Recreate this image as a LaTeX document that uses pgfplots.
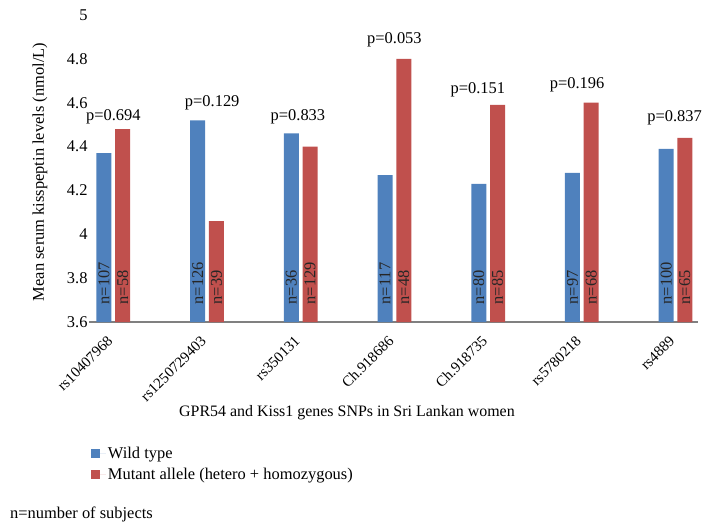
\documentclass[border=0pt]{standalone}
\usepackage{fontspec}
\setmainfont{Liberation Serif}
\usepackage{pgfplots}
\usepackage{pgfplotstable}
\pgfplotsset{compat=1.18}
\definecolor{wildblue}{RGB}{79,129,189}
\definecolor{mutred}{RGB}{192,80,77}
\definecolor{axisgray}{RGB}{128,128,128}

% bar means, blue shifted -0.1, red +0.1
\pgfplotstableread{
x y
-0.1 4.37
0.9 4.52
1.9 4.46
2.9 4.27
3.9 4.23
4.9 4.28
5.9 4.39
}\wildtab
\pgfplotstableread{
x y
0.1 4.48
1.1 4.06
2.1 4.40
3.1 4.80
4.1 4.59
5.1 4.60
6.1 4.44
}\muttab
% subject counts
\pgfplotstableread{
x y lab
-0.1 3.68 n=107
0.1 3.68 n=58
0.9 3.68 n=126
1.1 3.68 n=39
1.9 3.68 n=36
2.1 3.68 n=129
2.9 3.68 n=117
3.1 3.68 n=48
3.9 3.68 n=80
4.1 3.68 n=85
4.9 3.68 n=97
5.1 3.68 n=68
5.9 3.68 n=100
6.1 3.68 n=65
}\ntab
% p values
\pgfplotstableread{
x y lab
0.0 4.535 p=0.694
1.055 4.599 p=0.129
1.97 4.535 p=0.833
3.0 4.886 p=0.053
3.89 4.658 p=0.151
4.95 4.681 p=0.196
5.99 4.530 p=0.837
}\ptab

\newcommand\lblfont{\fontsize{16.5}{19}\selectfont}

\begin{document}
\begin{tikzpicture}
\path[use as bounding box] (-89bp,-210bp) rectangle (623bp,322bp);
\begin{axis}[
    at={(0,0)}, anchor=south west,
    scale only axis,
    width=609bp, height=307bp,
    xmin=-0.26, xmax=6.24,
    ymin=3.6, ymax=5,
    ytick={3.6,3.8,4,4.2,4.4,4.6,4.8,5},
    xtick={0,1,2,3,4,5,6},
    xticklabels={rs10407968,rs1250729403,rs350131,Ch.918686,Ch.918735,rs5780218,rs4889},
    axis x line*=bottom, axis y line*=left,
    y axis line style={draw=none},
    x axis line style={draw=axisgray, line width=2bp},
    major tick length=0pt,
    /pgf/number format/assume math mode=true,
    tick label style={font=\lblfont},
    yticklabel style={xshift=2bp},
    xticklabel style={font=\fontsize{15}{17}\selectfont, yshift=-14bp, xshift=-1bp, rotate=45, anchor=east},
    xlabel={GPR54 and Kiss1 genes SNPs in Sri Lankan women},
    xlabel style={at={(axis description cs:0.4236,-0.297)}, anchor=center, font=\fontsize{16}{19}\selectfont},
    ylabel={Mean serum kisspeptin levels (nmol/L)},
    ylabel style={at={(axis description cs:-0.0805,0.4886)}, anchor=center, font=\lblfont},
    legend style={at={(axis description cs:-0.002,-0.395)}, anchor=north west, draw=none, fill=none,
        font=\lblfont, row sep=4bp},
    legend cell align=left,
    legend image code/.code={\fill[#1,draw=none] (0bp,-4.5bp) rectangle (9.5bp,4.5bp);
        \path (0bp,0bp) -- (15bp,0bp);},
]
\addplot[ybar, bar width=15bp, bar shift=0pt, fill=wildblue, draw=none] table[x=x,y=y] {\wildtab};
\addlegendentry{Wild type}
\addplot[ybar, bar width=15bp, bar shift=0pt, fill=mutred, draw=none] table[x=x,y=y] {\muttab};
\addlegendentry{Mutant allele (hetero + homozygous)}
\addplot[draw=none, mark=none, nodes near coords, point meta=explicit symbolic,
    nodes near coords style={rotate=90, anchor=west, inner sep=0pt, text=black!85,
      font=\lblfont}] table[x=x,y=y,meta=lab] {\ntab};
\addplot[draw=none, mark=none, nodes near coords, point meta=explicit symbolic,
    nodes near coords style={anchor=center, inner sep=0pt, text=black,
      font=\lblfont}] table[x=x,y=y,meta=lab] {\ptab};
\end{axis}
\node[anchor=west, inner sep=0pt, font=\lblfont] at (-79bp,-192bp) {n=number of subjects};
\end{tikzpicture}
\end{document}
